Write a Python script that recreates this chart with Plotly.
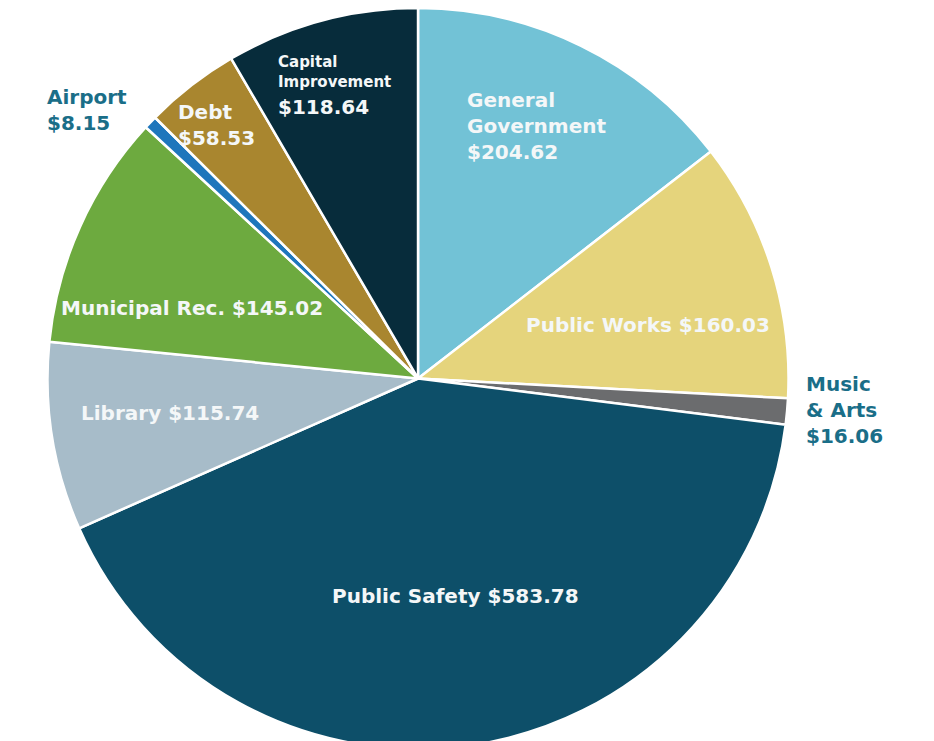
import plotly.graph_objects as go

W, H = 934, 741
OFF = 8  # page offset of the figure inside the browser window

categories = ["General Government", "Public Works", "Music & Arts", "Public Safety",
              "Library", "Municipal Rec.", "Airport", "Debt", "Capital Improvement"]
values = [204.62, 160.03, 16.06, 583.78, 115.74, 145.02, 8.15, 58.53, 118.64]
colors = ["#72C2D6", "#E5D47C", "#6B6C6E", "#0D4F69", "#A7BCC9",
          "#6DAA3F", "#1E76BC", "#A9862F", "#072C3B"]

fig = go.Figure(go.Pie(
    labels=categories, values=values, sort=False, direction="clockwise", rotation=0,
    marker=dict(colors=colors, line=dict(color="white", width=2.5)),
    textinfo="none", hoverinfo="label+value", showlegend=False,
    domain=dict(x=[0, 0.878], y=[0, 1]),
))

vals = dict(zip(categories, values))
FONT = "DejaVu Sans"
WHITE = "#F4F7F8"
TEAL = "#1A6E88"
FS = 20

def money(k):
    return f"${vals[k]:.2f}"

# (text, target x px, target center-y px, color, anchor, size)
labels = [
    ("General<br>Government<br>" + money("General Government"), 467, 126, WHITE, "left", FS),
    ("Public Works " + money("Public Works"), 648, 325, WHITE, "center", FS),
    ("Music<br>& Arts<br>" + money("Music & Arts"), 806, 410, TEAL, "left", FS),
    ("Public Safety " + money("Public Safety"), 455, 596, WHITE, "center", FS),
    ("Library " + money("Library"), 170, 413, WHITE, "center", FS),
    ("Municipal Rec. " + money("Municipal Rec."), 192, 308, WHITE, "center", FS),
    ("Airport<br>" + money("Airport"), 47, 110, TEAL, "left", FS),
    ("Debt<br>" + money("Debt"), 178, 125, WHITE, "left", FS),
    ("Capital<br>Improvement", 278, 72, WHITE, "left", 15),
    (money("Capital Improvement"), 278, 107, WHITE, "left", FS),
]

annotations = []
for text, px, py, col, anchor, size in labels:
    pad = 2 if anchor == "left" else 0
    annotations.append(dict(
        text="<b>" + text + "</b>",
        x=(px - OFF - pad) / W, y=1 - (py - OFF) / H, xref="paper", yref="paper",
        xanchor=anchor, yanchor="middle", align="left" if anchor == "left" else "center",
        showarrow=False, font=dict(family=FONT, size=size, color=col),
    ))

fig.update_layout(
    width=W, height=H, margin=dict(l=0, r=0, t=0, b=0),
    paper_bgcolor="white", plot_bgcolor="white",
    annotations=annotations,
)

fig.write_html("out.html")
